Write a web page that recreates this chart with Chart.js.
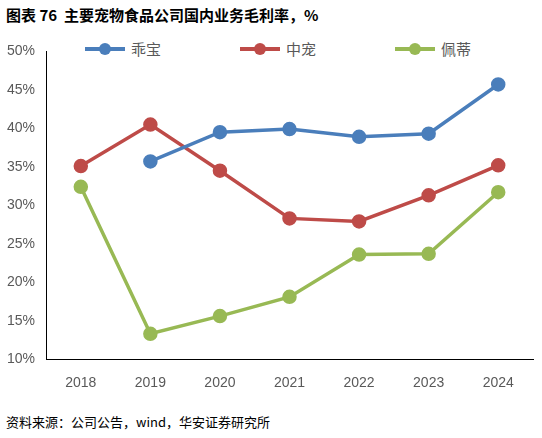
<!DOCTYPE html>
<html><head><meta charset="utf-8">
<script src="https://cdn.jsdelivr.net/npm/chart.js@4"></script>
<style>
body{margin:0;background:#fff;font-family:"Noto Sans CJK SC",sans-serif;}
#t{position:absolute;left:6px;top:4px;font-size:15px;font-weight:bold;color:#000;}
#s{position:absolute;left:6px;top:412px;font-size:13px;color:#000;}
#w{position:absolute;left:0;top:40px;width:542px;height:360px;}
.lg{position:absolute;top:38px;font-size:15px;color:#595959;display:flex;align-items:center;}
.lg i{display:inline-block;width:40px;height:4px;position:relative;margin-right:6px;}
.lg i b{position:absolute;left:14px;top:-4px;width:12px;height:12px;border-radius:6px;background:inherit;}
</style></head><body>
<div id="t">图表 76&nbsp; 主要宠物食品公司国内业务毛利率，%</div>
<div class="lg" style="left:85px"><i style="background:#4a7ebb"><b></b></i>乖宝</div>
<div class="lg" style="left:240px"><i style="background:#be4b48"><b></b></i>中宠</div>
<div class="lg" style="left:395px"><i style="background:#98b954"><b></b></i>佩蒂</div>
<div id="w"><canvas id="c"></canvas></div>
<div id="s">资料来源：公司公告，wind，华安证券研究所</div>
<script>
const categories=["2018","2019","2020","2021","2022","2023","2024"];
const guaibao=[null,35.7,39.5,39.9,38.9,39.3,45.7];
const zhongchong=[35.1,40.5,34.5,28.3,27.9,31.3,35.2];
const peidi=[32.4,13.3,15.6,18.1,23.6,23.7,31.7];
const mk=(l,d,c)=>({label:l,data:d,borderColor:c,backgroundColor:c,borderWidth:3.5,pointRadius:5.5,pointBackgroundColor:c,tension:0});
new Chart(document.getElementById('c'),{type:'line',
data:{labels:categories,datasets:[mk('乖宝',guaibao,'#4a7ebb'),mk('中宠',zhongchong,'#be4b48'),mk('佩蒂',peidi,'#98b954')]},
options:{responsive:true,maintainAspectRatio:false,animation:false,
layout:{padding:{right:0,left:4,top:10,bottom:0}},
plugins:{legend:{display:false},tooltip:{enabled:false}},
scales:{x:{offset:true,grid:{display:false},border:{color:'#000'},ticks:{color:'#595959',font:{size:14},padding:8}},
y:{min:10,max:50,grid:{display:false},border:{color:'#000'},ticks:{stepSize:5,color:'#595959',font:{size:14},callback:v=>v+'%'}}}}
});
</script></body></html>
